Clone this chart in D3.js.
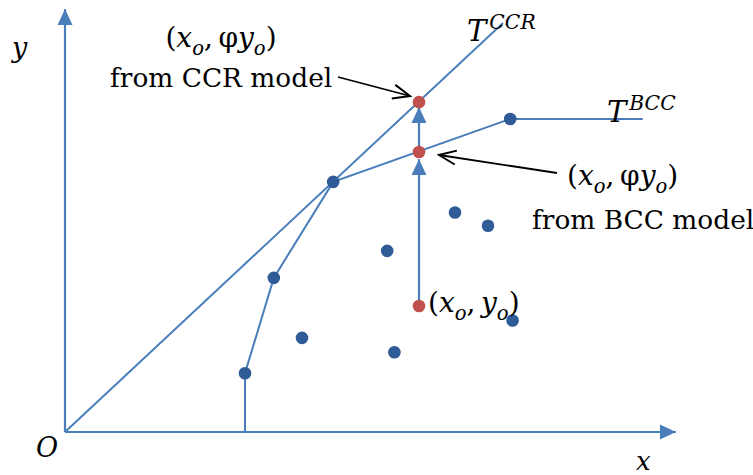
<!DOCTYPE html>
<html>
<head>
<meta charset="utf-8">
<script src="https://cdn.jsdelivr.net/npm/d3@7"></script>
<style>
  html, body { margin: 0; padding: 0; background: #fff; }
  svg { display: block; }
  text { font-family: "DejaVu Serif", "Liberation Serif", serif; fill: #000; }
</style>
</head>
<body>
<svg id="chart" width="753" height="475"></svg>
<script>
// Input (x) / output (y) plane of a DEA example
const axisMax = { x: 10.2, y: 7.07 };

// BCC (variable returns to scale) frontier, walked from the x-axis foot
const bccX = [3.0, 3.0, 3.48, 4.47, 7.42, 9.63];
const bccY = [0, 0.98, 2.57, 4.17, 5.22, 5.22];

// CCR (constant returns to scale) ray through the origin
const ccrX = [0, 7.3];
const ccrY = [0, 6.82];

// Efficient DMUs on the BCC frontier
const effX = [3.0, 3.48, 4.47, 7.42];
const effY = [0.98, 2.57, 4.17, 5.22];

// Inefficient DMUs
const ineffX = [3.95, 5.49, 5.37, 6.50, 7.05, 7.46];
const ineffY = [1.57, 1.33, 3.02, 3.66, 3.44, 1.86];

// Evaluated unit and its output-oriented projections
const evalX = [5.9, 5.9, 5.9];
const evalY = [2.1, 4.67, 5.5];          // observed, BCC target, CCR target

// Upward projection arrows (start / tip on the output axis)
const projFrom = [2.1, 4.67];
const projTo = [4.55, 5.42];

const blue = "#4a7ebb";
const dotBlue = "#2f5b96";
const red = "#c0504d";

const svg = d3.select("#chart");
const x = d3.scaleLinear().domain([0, axisMax.x]).range([65, 677]);
const y = d3.scaleLinear().domain([0, axisMax.y]).range([432, 8]);

const defs = svg.append("defs");
defs.append("marker")
  .attr("id", "solidHead")
  .attr("markerUnits", "userSpaceOnUse")
  .attr("viewBox", "-16 -8 16 16")
  .attr("refX", 0).attr("refY", 0)
  .attr("markerWidth", 16).attr("markerHeight", 16)
  .attr("orient", "auto")
  .append("path").attr("d", "M-16,-7.5L0,0L-16,7.5Z").attr("fill", blue);
defs.append("marker")
  .attr("id", "openHead")
  .attr("markerUnits", "userSpaceOnUse")
  .attr("viewBox", "-20 -10 22 20")
  .attr("refX", 0).attr("refY", 0)
  .attr("markerWidth", 22).attr("markerHeight", 20)
  .attr("orient", "auto")
  .append("path").attr("d", "M-17,-7L0,0L-17,7")
  .attr("fill", "none").attr("stroke", "#000").attr("stroke-width", 2);

// Axes drawn as plain arrows from the scale ends
const axes = svg.append("g");
axes.append("line")
  .attr("x1", x(0)).attr("y1", y(0)).attr("x2", x(axisMax.x) - 1).attr("y2", y(0))
  .attr("stroke", blue).attr("stroke-width", 2.2).attr("marker-end", "url(#solidHead)");
axes.append("line")
  .attr("x1", x(0)).attr("y1", y(0)).attr("x2", x(0)).attr("y2", y(axisMax.y) + 1)
  .attr("stroke", blue).attr("stroke-width", 2.2).attr("marker-end", "url(#solidHead)");

const line = d3.line().x(d => x(d[0])).y(d => y(d[1]));

// CCR frontier
svg.append("path")
  .datum(d3.zip(ccrX, ccrY))
  .attr("d", line)
  .attr("fill", "none").attr("stroke", blue).attr("stroke-width", 2);

// BCC frontier
svg.append("path")
  .datum(d3.zip(bccX, bccY))
  .attr("d", line)
  .attr("fill", "none").attr("stroke", blue).attr("stroke-width", 2);

// Projection arrows
svg.selectAll("line.proj")
  .data(d3.zip(projFrom, projTo))
  .join("line")
  .attr("class", "proj")
  .attr("x1", x(evalX[0])).attr("x2", x(evalX[0]))
  .attr("y1", d => y(d[0])).attr("y2", d => y(d[1]))
  .attr("stroke", blue).attr("stroke-width", 2.2)
  .attr("marker-end", "url(#solidHead)");

// DMU dots
svg.selectAll("circle.dmu")
  .data(d3.zip(effX.concat(ineffX), effY.concat(ineffY)))
  .join("circle")
  .attr("class", "dmu")
  .attr("cx", d => x(d[0])).attr("cy", d => y(d[1]))
  .attr("r", 6.3).attr("fill", dotBlue);

svg.selectAll("circle.eval")
  .data(d3.range(evalX.length))
  .join("circle")
  .attr("class", "eval")
  .attr("cx", i => x(evalX[i])).attr("cy", i => y(evalY[i]))
  .attr("r", 6.3).attr("fill", red);

// Pointer arrows from the captions to the projected points
const pointers = [
  { x1: 338, y1: 77, x2: 410, y2: 96 },
  { x1: 557, y1: 173, x2: 439, y2: 155 }
];
svg.selectAll("line.pointer")
  .data(pointers)
  .join("line")
  .attr("class", "pointer")
  .attr("x1", d => d.x1).attr("y1", d => d.y1)
  .attr("x2", d => d.x2).attr("y2", d => d.y2)
  .attr("stroke", "#000").attr("stroke-width", 1.8)
  .attr("marker-end", "url(#openHead)");

// Builds a small math expression out of tspans
function mathText(g, px, py, parts, size, anchor) {
  const t = g.append("text")
    .attr("x", px).attr("y", py)
    .attr("font-size", size)
    .attr("text-anchor", anchor || "start");
  let shift = 0;
  parts.forEach(p => {
    const s = t.append("tspan").text(p.t);
    if (p.i) s.attr("font-style", "italic");
    const want = p.sub ? size * 0.3 : (p.sup ? -size * 0.42 : 0);
    if (want !== shift) { s.attr("dy", want - shift); shift = want; }
    if (p.dx) s.attr("dx", p.dx);
    if (p.sub || p.sup) s.attr("font-size", size * 0.7);
  });
  return t;
}

const phiPoint = [
  { t: "(" }, { t: "x", i: true }, { t: "o", i: true, sub: true },
  { t: ",\u2009" }, { t: "φ" }, { t: "y", i: true }, { t: "o", i: true, sub: true },
  { t: ")" }
];
const obsPoint = [
  { t: "(" }, { t: "x", i: true }, { t: "o", i: true, sub: true },
  { t: ",\u2009" }, { t: "y", i: true }, { t: "o", i: true, sub: true },
  { t: ")" }
];

const labels = svg.append("g");
mathText(labels, 221, 47, phiPoint, 28, "middle");
labels.append("text").attr("x", 110).attr("y", 87).attr("font-size", 26.4).text("from CCR model");

mathText(labels, 567, 185, phiPoint, 28, "start");
labels.append("text").attr("x", 532).attr("y", 229).attr("font-size", 26.4).text("from BCC model");

mathText(labels, 428, 312, obsPoint, 28, "start");

mathText(labels, 467, 41, [{ t: "T", i: true }, { t: "CCR", i: true, sup: true, dx: 3 }], 29, "start");
mathText(labels, 607, 122, [{ t: "T", i: true }, { t: "BCC", i: true, sup: true, dx: 3 }], 29, "start");

// Axis titles
labels.append("text").attr("x", 12).attr("y", 57).attr("font-size", 27).attr("font-style", "italic").text("y");
labels.append("text").attr("x", 636).attr("y", 470).attr("font-size", 26).attr("font-style", "italic").text("x");
labels.append("text").attr("x", 36).attr("y", 457).attr("font-size", 27).attr("font-style", "italic").text("O");
</script>
</body>
</html>
